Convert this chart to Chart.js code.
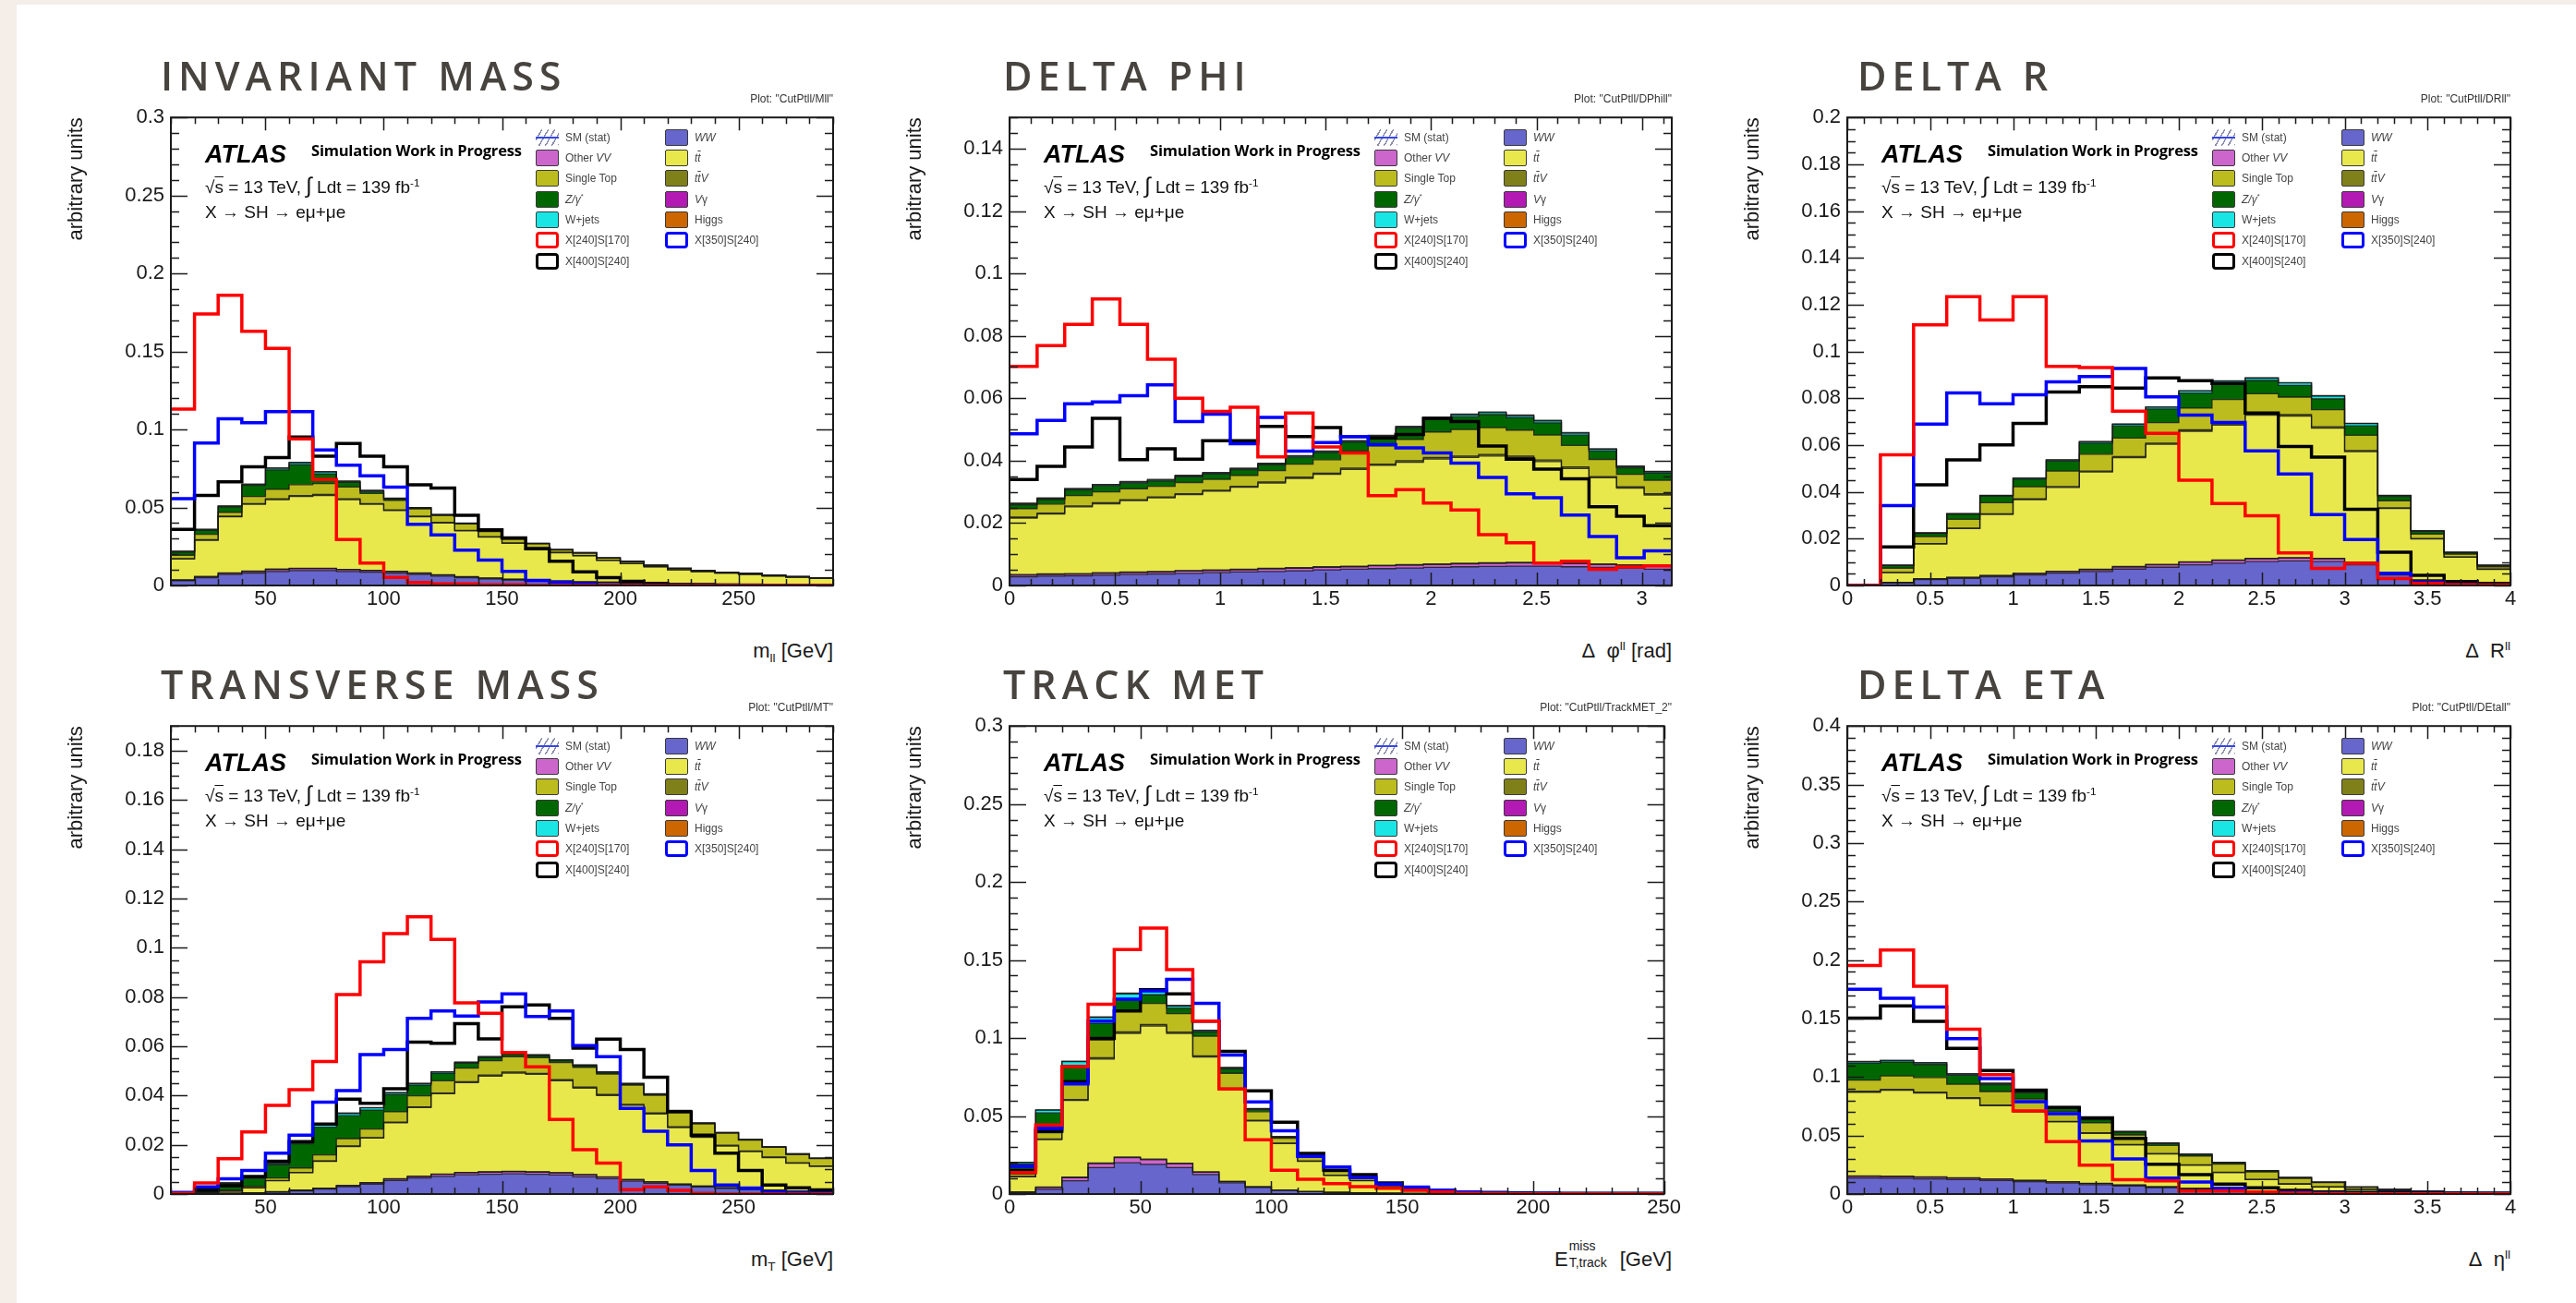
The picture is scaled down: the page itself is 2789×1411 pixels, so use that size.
<!DOCTYPE html>
<html>
<head>
<meta charset="utf-8">
<title>CutPtll distributions</title>
<script src="https://cdn.jsdelivr.net/npm/chart.js@4.4.1/dist/chart.umd.min.js"></script>
<style>
  html, body { margin: 0; padding: 0; }
  body { position: relative; width: 2789px; height: 1411px; overflow: hidden; background: #f4ede8;
         font-family: "Liberation Sans", Arial, sans-serif; color: #111; }
  #sheet { position: absolute; left: 18px; top: 5px; right: 0; bottom: 0; background: #fff; }
  .abs { position: absolute; white-space: nowrap; }
  .ptitle { font-family: "Open Sans", sans-serif; font-weight: 600; font-size: 43px; line-height: 43px;
            letter-spacing: 6px; color: #47433e; }
  .plotname { font-size: 12px; line-height: 14px; color: #333; }
  .xtitle { font-size: 22px; line-height: 26px; color: #1a1a1a; }
  .atlas { font-weight: bold; font-style: italic; font-size: 27px; line-height: 29px; color: #000; }
  .simwip { font-family: "Open Sans", sans-serif; font-weight: 700; font-size: 16.5px; line-height: 16.5px; color: #000; letter-spacing: -0.2px; }
  .info { font-size: 19px; line-height: 19px; color: #111; }
  .lbox { position: absolute; width: 25px; height: 18px; box-sizing: border-box; border: 1.5px solid #3a3a3a; border-radius: 2px; }
  .lsig { border-width: 3.5px; border-radius: 4px; background: #fff; }
  .lhatch { border: none; background: repeating-linear-gradient(-60deg, #8a8aa8 0 1.4px, transparent 1.4px 6px); }
  .lhatch::after { content: ""; position: absolute; left: 0; right: 0; top: 8px; height: 2px; background: #3344ee; }
  .ltxt { position: absolute; font-size: 12px; line-height: 14px; color: #444; white-space: nowrap; }
  sub, sup { font-size: 62%; line-height: 0; }
  .ov { text-decoration: overline; }
  .supsub { position: relative; display: inline-block; width: 50px; height: 20px; font-size: 14px; }
  .supsub span { position: absolute; left: 1px; line-height: 14px; }
</style>
</head>
<body>
<div id="sheet"></div>
<script>
// bin edges
const massEdges = [10,20,30,40,50,60,70,80,90,100,110,120,130,140,150,160,170,180,190,200,210,220,230,240,250,260,270,280,290];
const dphiEdges = [0,0.1309,0.2618,0.3927,0.5236,0.6545,0.7854,0.9163,1.0472,1.1781,1.309,1.4399,1.5708,1.7017,1.8326,1.9635,2.0944,2.2253,2.3562,2.4871,2.618,2.7489,2.8798,3.0107,3.1416];
const etaEdges = [0,0.2,0.4,0.6,0.8,1,1.2,1.4,1.6,1.8,2,2.2,2.4,2.6,2.8,3,3.2,3.4,3.6,3.8,4];
const metEdges = [0,10,20,30,40,50,60,70,80,90,100,110,120,130,140,150,160,170,180,190,200,210,220,230,240,250];

// tick labels
const massXTicks = [50,100,150,200,250];
const dphiXTicks = [0,0.5,1,1.5,2,2.5,3];
const etaXTicks = [0,0.5,1,1.5,2,2.5,3,3.5,4];
const metXTicks = [0,50,100,150,200,250];
const mllYTicks = [0,0.05,0.1,0.15,0.2,0.25,0.3];
const dphiYTicks = [0,0.02,0.04,0.06,0.08,0.1,0.12,0.14];
const drYTicks = [0,0.02,0.04,0.06,0.08,0.1,0.12,0.14,0.16,0.18,0.2];
const mtYTicks = [0,0.02,0.04,0.06,0.08,0.1,0.12,0.14,0.16,0.18];
const metYTicks = [0,0.05,0.1,0.15,0.2,0.25,0.3];
const detaYTicks = [0,0.05,0.1,0.15,0.2,0.25,0.3,0.35,0.4];

// invariant mass
const mllWW = [.003,.005,.007,.008,.009,.0095,.0095,.009,.0085,.008,.007,.006,.005,.0042,.0035,.003,.0025,.002,.0018,.0015,.0012,.001,.0009,.0008,.0007,.0006,.0005,.0005];
const mllOtherVV = [.0004,.0006,.0008,.001,.0012,.0012,.0012,.0011,.001,.0009,.0008,.0007,.0006,.0005,.0004,.0004,.0003,.0003,.0003,.0002,.0002,.0002,.0002,.0001,.0001,.0001,.0001,.0001];
const mllVgamma = [.0002,.0003,.0003,.0003,.0003,.0003,.0003,.0002,.0002,.0002,.0002,.0002,.0001,.0001,.0001,.0001,.0001,.0001,.0001,.0001,.0001,.0001,.0001,.0001,.0001,.0001,.0001,.0001];
const mllTtbar = [.0134,.0231,.0359,.0427,.0445,.046,.0467,.0447,.0423,.0389,.036,.0331,.0293,.0262,.023,.0205,.0181,.0166,.0138,.0122,.0105,.0087,.0076,.0069,.0062,.0052,.0045,.0039];
const mllTtV = [.0002,.0003,.0004,.0005,.0006,.0006,.0006,.0006,.0005,.0005,.0004,.0004,.0003,.0003,.0003,.0002,.0002,.0002,.0002,.0001,.0001,.0001,.0001,.0001,.0001,.0001,.0001,.0001];
const mllSingleTop = [.0022,.0035,.0025,.0045,.006,.007,.007,.0075,.0065,.006,.0047,.0044,.0041,.0032,.0024,.0025,.0016,.0016,.0013,.0013,.0008,.0008,.0006,.0005,.0005,.0004,.0004,.0003];
const mllZ = [.002,.0025,.0035,.0072,.0125,.0128,.0063,.003,.0013,.001,.0006,.0005,.0004,.0003,.0002,.0002,.0001,.0001,.0001,.0001,.0001,.0001,0,0,0,0,0,0];
const mllWjets = [.0004,.0005,.0004,.0006,.001,.0013,.0011,.0006,.0005,.0003,.0002,.0001,.0001,.0001,.0001,.0001,.0001,.0001,0,0,0,0,0,0,0,0,0,0];
const mllHiggs = [.0002,.0002,.0002,.0002,.0003,.0003,.0003,.0003,.0002,.0002,.0001,.0001,.0001,.0001,0,0,0,0,0,0,0,0,0,0,0,0,0,0];
const mllX240 = [.113,.174,.186,.163,.152,.094,.068,.0295,.0144,.0052,.0019,.001,.001,.0005,.0005,0,0,0,0,0,0,0,0,0,0,0,0,0];
const mllX350 = [.0557,.0913,.1068,.1043,.1115,.1115,.0868,.0771,.0703,.0631,.0392,.0324,.0227,.0163,.0091,.0033,.002,.001,0,0,0,0,0,0,0,0,0,0];
const mllX400 = [.036,.0577,.0664,.0761,.082,.0951,.0829,.091,.0829,.0761,.0645,.0625,.045,.0357,.0305,.0235,.0156,.0088,.005,.0026,.0013,.0005,.0003,.0002,.0001,.0001,0,0];

// delta phi
const dphiWW = [.0028,.003,.0031,.0033,.0035,.0037,.0039,.0041,.0043,.0045,.0047,.005,.0052,.0054,.0056,.0058,.006,.0061,.0062,.0062,.006,.0058,.0055,.0052];
const dphiOtherVV = [.0005,.0005,.0005,.0006,.0006,.0006,.0007,.0007,.0007,.0008,.0008,.0008,.0008,.0009,.0009,.0009,.0009,.001,.001,.001,.001,.0009,.0009,.0009];
const dphiVgamma = [.0002,.0002,.0002,.0002,.0002,.0002,.0002,.0002,.0002,.0002,.0002,.0002,.0002,.0002,.0002,.0002,.0002,.0002,.0002,.0002,.0002,.0002,.0002,.0002];
const dphiTtbar = [.0181,.0192,.0214,.0221,.0229,.0236,.0243,.0252,.0263,.0273,.0286,.0296,.031,.032,.0328,.0336,.0339,.0342,.0336,.0323,.0303,.0276,.0246,.0227];
const dphiTtV = [.0003,.0003,.0003,.0003,.0003,.0003,.0003,.0003,.0003,.0004,.0004,.0004,.0004,.0004,.0005,.0005,.0005,.0005,.0005,.0005,.0005,.0004,.0004,.0004];
const dphiSingleTop = [.0027,.0029,.0033,.0035,.0035,.0034,.0036,.0035,.0035,.0036,.0042,.0043,.0055,.0058,.0068,.0082,.0085,.0086,.0083,.008,.0069,.0055,.004,.0043];
const dphiZ = [.0013,.0015,.0018,.0019,.0018,.0017,.0018,.0017,.0018,.0019,.0022,.0023,.0028,.0029,.0036,.004,.0041,.0042,.004,.0039,.0033,.0027,.0021,.0023];
const dphiWjets = [.0003,.0003,.0003,.0003,.0003,.0003,.0003,.0003,.0003,.0003,.0003,.0003,.0003,.0003,.0004,.0005,.0006,.0006,.0006,.0006,.0006,.0005,.0004,.0004];
const dphiHiggs = [.0002,.0002,.0002,.0002,.0002,.0002,.0002,.0002,.0002,.0002,.0002,.0002,.0002,.0002,.0002,.0002,.0002,.0002,.0002,.0002,.0002,.0002,.0002,.0002];
const dphiX240 = [.0702,.0769,.0837,.0918,.0837,.0725,.060,.0558,.0571,.0412,.0553,.0444,.0425,.0288,.0307,.0264,.0242,.0163,.0137,.0072,.0078,.0052,.0059,.0063];
const dphiX350 = [.0486,.0529,.0582,.0588,.0608,.0643,.0525,.0549,.0454,.0539,.0431,.0458,.0477,.0451,.0441,.0425,.0392,.0346,.0294,.0281,.0226,.0157,.0089,.0111];
const dphiX400 = [.034,.0382,.0444,.0536,.0403,.0438,.0405,.0464,.0464,.051,.0477,.0506,.0477,.0473,.0484,.0536,.0525,.0447,.0405,.0373,.0342,.0252,.0222,.0192];

// delta R
const drWW = [0,.001,.0025,.003,.0037,.0045,.0053,.006,.007,.0078,.0088,.0095,.0102,.0105,.0102,.0088,.0045,.002,.001,.0005];
const drOtherVV = [0,.0002,.0003,.0004,.0005,.0006,.0007,.0008,.0009,.001,.0011,.0012,.0012,.0012,.0012,.001,.0006,.0003,.0002,.0001];
const drVgamma = [0,.0001,.0001,.0001,.0001,.0001,.0001,.0001,.0002,.0002,.0002,.0002,.0002,.0002,.0002,.0002,.0001,.0001,0,0];
const drTtbar = [.0001,.0042,.0148,.0208,.026,.0315,.0358,.0416,.0465,.0513,.0558,.0576,.0612,.0605,.0556,.0472,.0277,.0175,.0109,.0063];
const drTtV = [0,.0001,.0002,.0002,.0003,.0003,.0004,.0004,.0005,.0005,.0006,.0006,.0006,.0006,.0006,.0005,.0003,.0002,.0001,.0001];
const drSingleTop = [.0001,.0018,.003,.0038,.0048,.0052,.0066,.0072,.0079,.0088,.0093,.0104,.0085,.0075,.0073,.0065,.003,.0019,.0012,.001];
const drZ = [0,.0011,.0014,.0021,.0027,.0032,.0042,.0047,.0052,.0058,.0064,.007,.0057,.005,.0047,.004,.0018,.0011,.0006,.0005];
const drWjets = [0,.0001,.0001,.0002,.0003,.0004,.0005,.0006,.0007,.0008,.0009,.0009,.001,.0011,.0012,.001,.0004,.0002,.0001,.0001];
const drHiggs = [0,.0001,.0001,.0001,.0001,.0001,.0001,.0001,.0001,.0001,.0001,.0001,.0001,.0001,.0001,.0001,.0001,.0001,.0001,.0001];
const drX240 = [0,.0558,.1114,.1234,.1135,.1234,.0936,.0931,.0745,.065,.045,.035,.0298,.0139,.0073,.0095,.003,.0009,.0003,.0002];
const drX350 = [0,.0341,.069,.0823,.0776,.0815,.087,.0893,.0927,.0806,.0728,.0697,.0575,.0477,.0303,.0196,.0052,.0014,.0003,0];
const drX400 = [0,.0165,.043,.0537,.0601,.0693,.0827,.0849,.0844,.0887,.0875,.0863,.0737,.0594,.0549,.0326,.0142,.0043,.0017,.0009];

// transverse mass
const mtWW = [0,.0001,.0002,.0004,.0008,.0013,.002,.003,.004,.0055,.0065,.0072,.0078,.008,.0082,.008,.0077,.007,.0062,.0052,.0044,.0036,.0029,.0023,.0018,.0014,.0011,.0009];
const mtOtherVV = [0,0,.0001,.0001,.0001,.0002,.0003,.0004,.0005,.0006,.0007,.0008,.0009,.0009,.0009,.0009,.0009,.0008,.0007,.0006,.0005,.0004,.0003,.0003,.0002,.0002,.0001,.0001];
const mtVgamma = [0,0,0,0,.0001,.0001,.0001,.0001,.0001,.0001,.0001,.0001,.0001,.0001,.0001,.0001,.0001,.0001,.0001,.0001,.0001,.0001,0,0,0,0,0,0];
const mtTtbar = [.0001,.0002,.0009,.002,.0044,.0071,.0109,.0158,.0181,.0227,.0278,.0326,.0364,.0389,.0399,.0396,.0373,.0351,.033,.0301,.0275,.0229,.0198,.0169,.0152,.0132,.0113,.0102];
const mtTtV = [0,0,0,0,.0001,.0001,.0001,.0002,.0002,.0003,.0003,.0003,.0004,.0004,.0004,.0004,.0004,.0004,.0004,.0004,.0004,.0003,.0003,.0003,.0003,.0002,.0002,.0002];
const mtSingleTop = [0,.0002,.0004,.0006,.001,.0018,.0025,.003,.0035,.0042,.0045,.005,.0055,.0058,.0062,.0064,.007,.008,.0083,.0078,.0072,.0062,.0052,.0049,.0044,.004,.0034,.003];
const mtZ = [.0002,.0017,.0026,.0032,.0054,.0098,.0112,.0093,.0077,.007,.0043,.003,.002,.0013,.001,.0008,.0007,.0006,.0005,.0004,.0003,.0003,.0002,.0002,.0002,.0001,.0001,.0001];
const mtWjets = [0,.0002,.0003,.0003,.0005,.0008,.0009,.001,.0009,.0007,.0006,.0005,.0004,.0003,.0003,.0003,.0003,.0003,.0003,.0002,.0002,.0001,.0001,.0001,.0001,.0001,.0001,.0001];
const mtHiggs = [0,0,0,0,0,.0001,.0001,0,.0001,.0001,.0001,.0001,.0001,.0001,.0001,.0001,.0001,.0001,.0001,.0001,.0001,.0001,.0001,0,0,0,0,0];
const mtX240 = [.0003,.0045,.0143,.0252,.036,.0424,.0538,.081,.0943,.1057,.1126,.1034,.0776,.0734,.0575,.0516,.0303,.018,.0126,.0018,.0029,.0015,.0003,0,0,0,0,0];
const mtX350 = [.0007,.0029,.0062,.0096,.0166,.0239,.0373,.042,.0566,.0587,.0713,.0743,.0723,.078,.0813,.0721,.0743,.0603,.0558,.0348,.0255,.02,.0096,.0037,.0024,.0008,.0005,.0003];
const mtX400 = [.0003,.0015,.0034,.0071,.0133,.0213,.0284,.0385,.0368,.0427,.0617,.0612,.0692,.063,.076,.0768,.0713,.0592,.0629,.0587,.0474,.0334,.0239,.0166,.0096,.0037,.0025,.0017];

// track MET
const metWW = [.001,.003,.0085,.017,.020,.019,.017,.0125,.0072,.0042,.0024,.0015,.001,.0007,.0005,.0003,.0002,.0002,.0001,.0001,.0001,.0001,.0001,.0001,.0001];
const metOtherVV = [.0003,.0013,.002,.0025,.0033,.003,.0025,.0015,.0008,.0004,.0002,.0001,.0001,.0001,0,0,0,0,0,0,0,0,0,0,0];
const metVgamma = [.0001,.0002,.0003,.0004,.0004,.0004,.0003,.0002,.0001,.0001,0,0,0,0,0,0,0,0,0,0,0,0,0,0,0];
const metTtbar = [.0097,.0304,.0492,.0666,.0792,.0853,.0831,.0736,.0591,.0421,.0297,.0193,.0108,.0077,.0048,.0029,.0019,.0014,.001,.0007,.0005,.0004,.0003,.0002,.0002];
const metTtV = [.0002,.0004,.0006,.0008,.001,.001,.0009,.0008,.0007,.0005,.0003,.0003,.0002,.0002,.0001,.0001,0,0,0,0,0,0,0,0,0];
const metSingleTop = [.0015,.004,.011,.0115,.0135,.0135,.0118,.0125,.0095,.0055,.0032,.0035,.0023,.0019,.001,.0006,.0004,.0003,.0002,.0002,.0002,.0001,.0001,.0001,.0001];
const metZ = [.0065,.0127,.0108,.0105,.0075,.0055,.0035,.0028,.0028,.0014,.0007,.0007,.0005,.0003,.0001,.0001,.0001,0,0,0,0,0,0,0,0];
const metWjets = [.001,.0018,.0025,.0038,.0033,.0027,.0013,.0008,.0007,.0004,.0002,.0002,.0001,.0001,.0001,0,0,0,0,0,0,0,0,0,0];
const metHiggs = [.0001,.0002,.0003,.0004,.0006,.0006,.0005,.0003,.0003,.0002,.0001,.0001,.0001,.0001,0,0,0,0,0,0,0,0,0,0,0];
const metX240 = [.0138,.0442,.0817,.1216,.1567,.1705,.1439,.1109,.0674,.0348,.0153,.0095,.0066,.0047,.0037,.0024,.0013,.0005,.0003,.0002,.0002,.0002,.0002,.0002,.0002];
const metX350 = [.0177,.042,.0706,.1108,.1249,.1302,.1377,.1222,.0891,.059,.0406,.0241,.0173,.0105,.0063,.0045,.0024,.0013,.0008,.0005,.0004,.0003,.0003,.0003,.0003];
const metX400 = [.0151,.0402,.072,.0997,.1173,.131,.1283,.1109,.0914,.0662,.046,.026,.0153,.0124,.0071,.0037,.0024,.0013,.001,.0008,.0006,.0005,.0005,.0005,.0005];

// delta eta
const detaWW = [.0137,.0135,.013,.0123,.0115,.0105,.0093,.008,.0068,.0055,.0043,.0032,.0023,.0016,.0011,.0007,.0005,.0003,.0002,.0001];
const detaOtherVV = [.0015,.0015,.0014,.0013,.0012,.0011,.001,.0009,.0008,.0006,.0005,.0004,.0003,.0002,.0001,.0001,.0001,0,0,0];
const detaVgamma = [.0003,.0003,.0003,.0003,.0002,.0002,.0002,.0002,.0002,.0001,.0001,.0001,.0001,0,0,0,0,0,0,0];
const detaTtbar = [.0715,.0734,.0716,.0678,.0625,.0583,.0511,.0427,.0341,.028,.0197,.0146,.0096,.0067,.0048,.0031,.0019,.0015,.001,.0008];
const detaTtV = [.0008,.0008,.0008,.0007,.0007,.0006,.0005,.0005,.0004,.0004,.0003,.0003,.0002,.0002,.0001,.0001,.0001,0,0,0];
const detaSingleTop = [.0095,.0115,.0125,.0115,.0115,.0105,.0085,.0085,.0082,.007,.0075,.007,.0064,.0047,.0036,.0018,.0012,.0006,.0005,.0004];
const detaZ = [.0145,.0118,.0111,.0076,.0059,.0054,.0032,.0026,.0024,.0017,.0014,.0012,.001,.0006,.0004,.0002,.0001,.0001,.0001,.0001];
const detaWjets = [.0012,.0012,.0012,.001,.0009,.0008,.0006,.0005,.0004,.0003,.0003,.0002,.0001,.0001,.0001,0,0,0,0,0];
const detaHiggs = [.0004,.0004,.0004,.0003,.0003,.0003,.0002,.0002,.0002,.0001,.0001,.0001,.0001,0,0,0,0,0,0,0];
const detaX240 = [.1954,.2085,.1775,.1408,.1021,.0711,.0447,.0246,.0123,.0113,.0025,.0025,.0018,.0007,.0003,.0001,.0001,.0001,.0001,.0001];
const detaX350 = [.175,.1673,.1599,.1327,.0986,.0789,.0687,.0454,.0299,.0137,.0102,.0049,.0018,.0014,.0007,.0003,.0003,.0003,.0003,.0003];
const detaX400 = [.1504,.1609,.1475,.1246,.1056,.0887,.0739,.0651,.0475,.0254,.0165,.0085,.0053,.0032,.0018,.0014,.0011,.0007,.0005,.0004];

// background stack order (bottom to top) and colours
const bkgColors = ['#6666cc', '#cc66cc', '#b31ab3', '#e8e84c', '#80801a', '#bcbc1e', '#006600', '#1ae5e5', '#cc6600'];
const sigColors = ['#ff0000', '#0000ff', '#000000'];

// legend, row by row as in the ROOT legend
const legendItems = [
  { label: 'SM (stat)', kind: 'hatch' },
  { label: '<i>WW</i>', fill: bkgColors[0] },
  { label: 'Other <i>VV</i>', fill: bkgColors[1] },
  { label: '<i>t<span class="ov">t</span></i>', fill: bkgColors[3] },
  { label: 'Single Top', fill: bkgColors[5] },
  { label: '<i>t<span class="ov">t</span>V</i>', fill: bkgColors[4] },
  { label: '<i>Z/γ</i><sup>*</sup>', fill: bkgColors[6] },
  { label: '<i>V</i>γ', fill: bkgColors[2] },
  { label: 'W+jets', fill: bkgColors[7] },
  { label: 'Higgs', fill: bkgColors[8] },
  { label: 'X[240]S[170]', line: sigColors[0] },
  { label: 'X[350]S[240]', line: sigColors[1] },
  { label: 'X[400]S[240]', line: sigColors[2] }
];

const panels = [
  { title: 'INVARIANT MASS', titleLeft: 174, plotName: 'CutPtll/Mll', xTitle: 'm<sub>ll</sub> [GeV]',
    edges: massEdges, xMin: 10, xMax: 290, xTicks: massXTicks, xMinor: 10, yMax: 0.3, yTicks: mllYTicks, yMinor: 0.01,
    bkg: [mllWW, mllOtherVV, mllVgamma, mllTtbar, mllTtV, mllSingleTop, mllZ, mllWjets, mllHiggs],
    sig: [mllX240, mllX350, mllX400], rect: [185, 119, 717, 515] },
  { title: 'DELTA PHI', titleLeft: 1086, plotName: 'CutPtll/DPhill', xTitle: 'Δ&nbsp; φ<sup>ll</sup> [rad]',
    edges: dphiEdges, xMin: 0, xMax: 3.1416, xTicks: dphiXTicks, xMinor: 0.1, yMax: 0.15, yTicks: dphiYTicks, yMinor: 0.005,
    bkg: [dphiWW, dphiOtherVV, dphiVgamma, dphiTtbar, dphiTtV, dphiSingleTop, dphiZ, dphiWjets, dphiHiggs],
    sig: [dphiX240, dphiX350, dphiX400], rect: [1093, 119, 717, 515] },
  { title: 'DELTA R', titleLeft: 2011, plotName: 'CutPtll/DRll', xTitle: 'Δ&nbsp; R<sup>ll</sup>',
    edges: etaEdges, xMin: 0, xMax: 4, xTicks: etaXTicks, xMinor: 0.1, yMax: 0.2, yTicks: drYTicks, yMinor: 0.005,
    bkg: [drWW, drOtherVV, drVgamma, drTtbar, drTtV, drSingleTop, drZ, drWjets, drHiggs],
    sig: [drX240, drX350, drX400], rect: [2000, 119, 718, 515] },
  { title: 'TRANSVERSE MASS', titleLeft: 174, plotName: 'CutPtll/MT', xTitle: 'm<sub>T</sub> [GeV]',
    edges: massEdges, xMin: 10, xMax: 290, xTicks: massXTicks, xMinor: 10, yMax: 0.19, yTicks: mtYTicks, yMinor: 0.005,
    bkg: [mtWW, mtOtherVV, mtVgamma, mtTtbar, mtTtV, mtSingleTop, mtZ, mtWjets, mtHiggs],
    sig: [mtX240, mtX350, mtX400], rect: [185, 778, 717, 515] },
  { title: 'TRACK MET', titleLeft: 1086, plotName: 'CutPtll/TrackMET_2',
    xTitle: 'E<span class="supsub"><span style="top:-9px">miss</span><span style="top:9px">T,track</span></span> [GeV]',
    edges: metEdges, xMin: 0, xMax: 250, xTicks: metXTicks, xMinor: 10, yMax: 0.3, yTicks: metYTicks, yMinor: 0.01,
    bkg: [metWW, metOtherVV, metVgamma, metTtbar, metTtV, metSingleTop, metZ, metWjets, metHiggs],
    sig: [metX240, metX350, metX400], rect: [1093, 778, 717, 515] },
  { title: 'DELTA ETA', titleLeft: 2011, plotName: 'CutPtll/DEtall', xTitle: 'Δ&nbsp; η<sup>ll</sup>',
    edges: etaEdges, xMin: 0, xMax: 4, xTicks: etaXTicks, xMinor: 0.1, yMax: 0.4, yTicks: detaYTicks, yMinor: 0.01,
    bkg: [detaWW, detaOtherVV, detaVgamma, detaTtbar, detaTtV, detaSingleTop, detaZ, detaWjets, detaHiggs],
    sig: [detaX240, detaX350, detaX400], rect: [2000, 778, 718, 515] }
];

const fmt = v => String(parseFloat(Number(v).toFixed(3)));

// one point per bin low edge, plus the last upper edge; the line holds each value across its bin
function steps(edges, vals) {
  return edges.map((e, i) => ({ x: e, y: vals[Math.min(i, vals.length - 1)] }));
}

// ROOT style frame with inward ticks on all four sides
const rootFrame = {
  id: 'rootFrame',
  afterDatasetsDraw(chart, args, o) {
    const { ctx, chartArea: a, scales: { x, y } } = chart;
    ctx.save();
    ctx.strokeStyle = '#1a1a1a';
    ctx.lineWidth = 1.5;
    ctx.beginPath();
    const xt = (v, len) => {
      const px = Math.round(x.getPixelForValue(v)) + 0.5;
      ctx.moveTo(px, a.bottom); ctx.lineTo(px, a.bottom - len);
      ctx.moveTo(px, a.top); ctx.lineTo(px, a.top + len);
    };
    const yt = (v, len) => {
      const py = Math.round(y.getPixelForValue(v)) + 0.5;
      ctx.moveTo(a.left, py); ctx.lineTo(a.left + len, py);
      ctx.moveTo(a.right, py); ctx.lineTo(a.right - len, py);
    };
    for (let k = Math.ceil(x.min / o.xMinor - 1e-6); k * o.xMinor <= x.max + 1e-6; k++) xt(k * o.xMinor, 7);
    for (let k = Math.ceil(y.min / o.yMinor - 1e-6); k * o.yMinor <= y.max + 1e-6; k++) yt(k * o.yMinor, 9);
    o.xTicks.forEach(v => xt(v, 14));
    o.yTicks.forEach(v => yt(v, 18));
    ctx.stroke();
    ctx.lineWidth = 2;
    ctx.strokeRect(a.left, a.top, a.right - a.left, a.bottom - a.top);
    ctx.restore();
  }
};

function addDiv(cls, html, css) {
  const d = document.createElement('div');
  d.className = 'abs ' + cls;
  d.innerHTML = html;
  Object.assign(d.style, css);
  document.body.appendChild(d);
  return d;
}

const tickFont = { family: 'Liberation Sans', size: 22 };

panels.forEach(p => {
  const [L, T, W, H] = p.rect;
  const cw = W + 142, ch = H + 57;
  const cv = document.createElement('canvas');
  cv.width = cw; cv.height = ch;
  Object.assign(cv.style, { position: 'absolute', left: (L - 130) + 'px', top: (T - 12) + 'px', width: cw + 'px', height: ch + 'px' });
  document.body.appendChild(cv);

  const datasets = p.bkg.map((vals, i) => ({
    data: steps(p.edges, vals), stepped: 'before', stack: 'bkg',
    backgroundColor: bkgColors[i], borderColor: 'rgba(25,25,25,0.85)', borderWidth: 1.3,
    fill: i === 0 ? 'origin' : '-1', pointRadius: 0
  }));
  p.sig.forEach((vals, i) => datasets.push({
    data: steps(p.edges, vals), stepped: 'before', stack: 'sig' + i, order: -1,
    borderColor: sigColors[i], borderWidth: 3.5, fill: false, pointRadius: 0, borderJoinStyle: 'miter'
  }));

  new Chart(cv, {
    type: 'line',
    data: { datasets },
    plugins: [rootFrame],
    options: {
      responsive: false, animation: false, devicePixelRatio: 1,
      layout: { padding: { top: 12, right: 12, left: 0, bottom: 0 } },
      plugins: {
        legend: { display: false }, tooltip: { enabled: false },
        filler: { drawTime: 'beforeDatasetsDraw' },
        rootFrame: { xMinor: p.xMinor, yMinor: p.yMinor, xTicks: p.xTicks, yTicks: p.yTicks }
      },
      scales: {
        x: {
          type: 'linear', min: p.xMin, max: p.xMax,
          grid: { display: false, drawTicks: false }, border: { display: false },
          afterBuildTicks: s => { s.ticks = p.xTicks.map(v => ({ value: v })); },
          afterFit: s => { s.height = 45; },
          ticks: { autoSkip: false, maxRotation: 0, padding: 2, font: tickFont, color: '#1a1a1a', callback: v => fmt(v) }
        },
        y: {
          type: 'linear', stacked: true, min: 0, max: p.yMax,
          grid: { display: false, drawTicks: false }, border: { display: false },
          afterBuildTicks: s => { s.ticks = p.yTicks.map(v => ({ value: v })); },
          afterFit: s => { s.width = 130; },
          ticks: { padding: 7, font: tickFont, color: '#1a1a1a', callback: v => fmt(v) },
          title: { display: true, text: 'arbitrary units', align: 'end', padding: { top: 15 }, font: tickFont, color: '#1a1a1a' }
        }
      }
    }
  });

  // panel heading and ROOT annotations
  addDiv('ptitle', p.title, { left: p.titleLeft + 'px', top: (T - 59.5) + 'px' });
  addDiv('plotname', 'Plot: "' + p.plotName + '"', { right: (2789 - (L + W)) + 'px', top: (T - 19) + 'px' });
  addDiv('xtitle', p.xTitle, { right: (2789 - (L + W)) + 'px', top: (T + H + 57.7) + 'px' });
  addDiv('atlas', 'ATLAS', { left: (L + 37) + 'px', top: (T + 34) + 'px' });
  addDiv('simwip', 'Simulation Work in Progress', { left: (L + 152) + 'px', top: (T + 36) + 'px' });
  addDiv('info', '√<span class="ov">s</span> = 13 TeV, <span style="font-size:24px">∫</span> Ldt = 139 fb<sup>-1</sup>', { left: (L + 37) + 'px', top: (T + 71.7) + 'px' });
  addDiv('info', 'X → SH → eμ+μe', { left: (L + 37) + 'px', top: (T + 100.7) + 'px' });

  legendItems.forEach((it, i) => {
    const bx = L + (i % 2 === 0 ? 395 : 535);
    const cy = T + 29.8 + 22.3 * Math.floor(i / 2);
    const box = addDiv('lbox', '', { left: bx + 'px', top: (cy - 9) + 'px' });
    if (it.kind === 'hatch') box.classList.add('lhatch');
    else if (it.line) { box.classList.add('lsig'); box.style.borderColor = it.line; }
    else box.style.background = it.fill;
    addDiv('ltxt', it.label, { left: (bx + 32) + 'px', top: (cy - 7) + 'px' });
  });
});
</script>
</body>
</html>
